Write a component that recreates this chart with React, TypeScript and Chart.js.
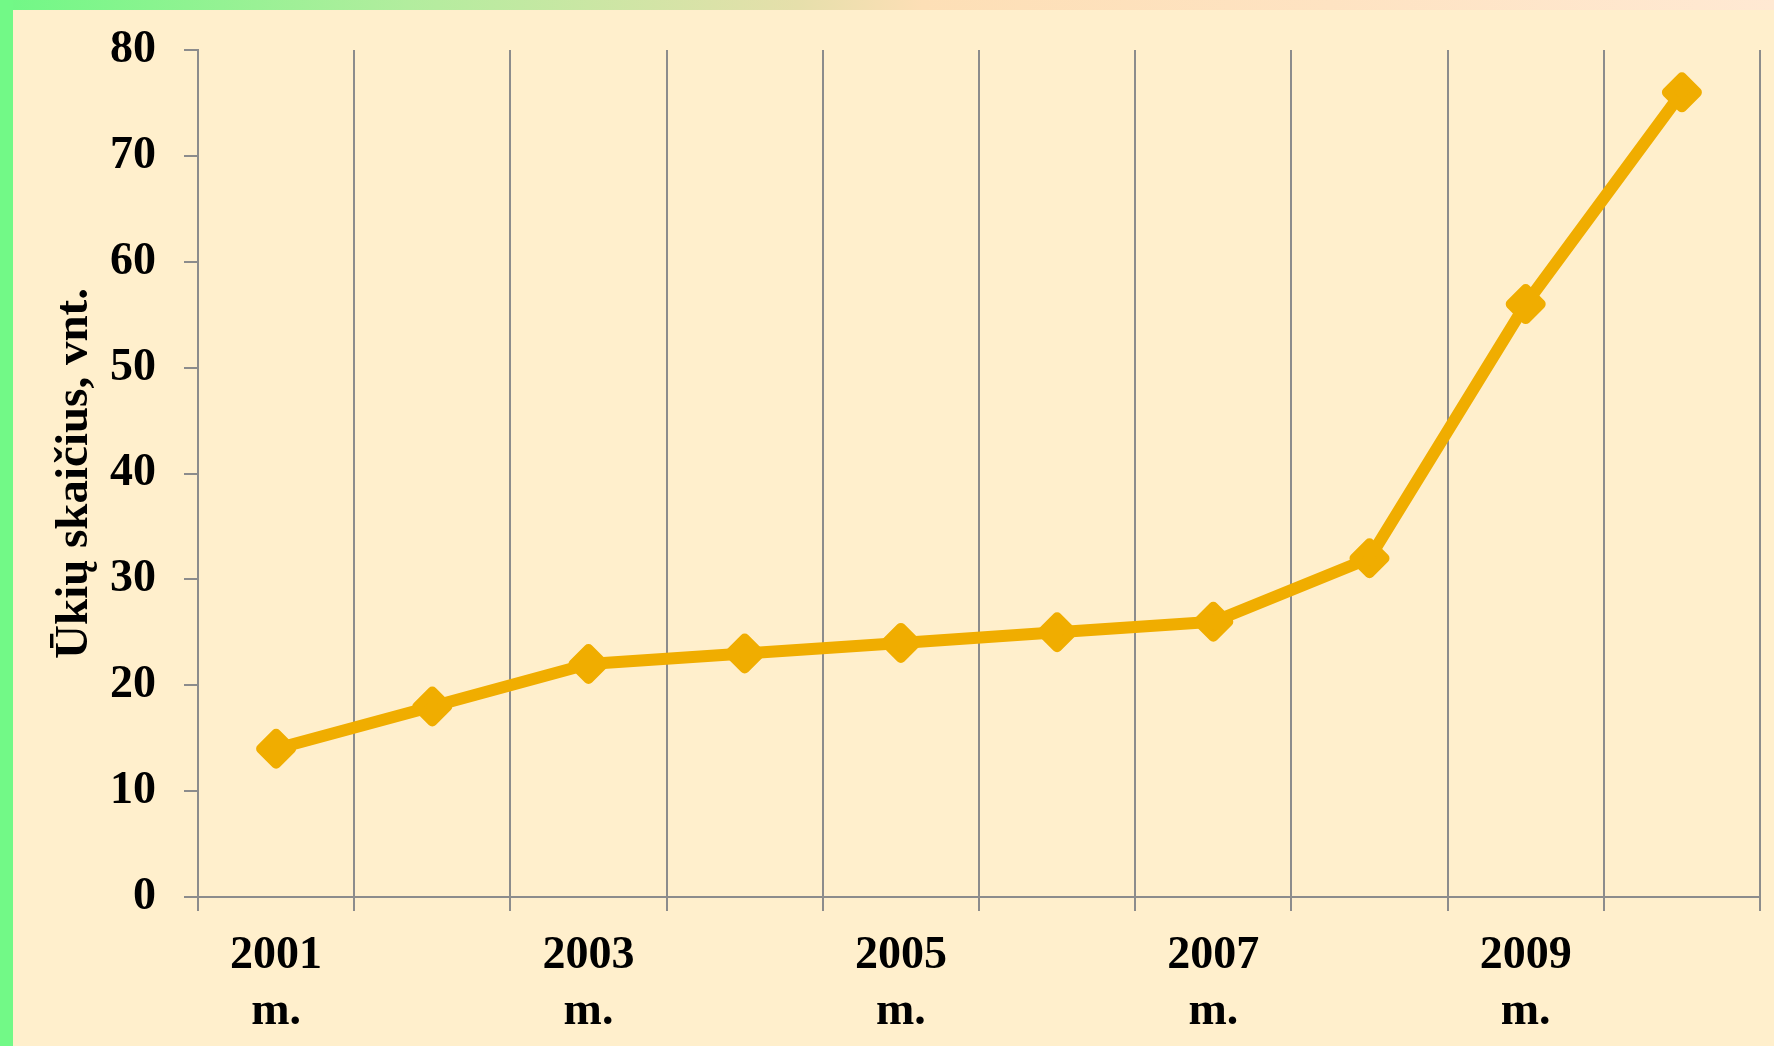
import React, { useEffect, useRef } from "react";
import { Chart, registerables } from "chart.js";

Chart.register(...registerables);

const years = ["2001", "2002", "2003", "2004", "2005", "2006", "2007", "2008", "2009", "2010"];
const yearSuffix = "m.";
const farmCounts = [14, 18, 22, 23, 24, 25, 26, 32, 56, 76];
const yMin = 0;
const yMax = 80;
const yStep = 10;
const yTitle = "Ūkių skaičius, vnt.";

const FONT = '"Liberation Serif", "Times New Roman", serif';
const LINE_COLOR = "#f0ad00";
const GRID_COLOR = "#8c8c8c";

const roundJoinPlugin = {
  id: "roundJoin",
  beforeDatasetsDraw(chart: any) {
    chart.ctx.lineJoin = "round";
  },
};

export default function App() {
  const canvasRef = useRef<HTMLCanvasElement | null>(null);

  useEffect(() => {
    const canvas = canvasRef.current;
    if (!canvas) return;
    const chart = new Chart(canvas, {
      type: "line",
      data: {
        labels: years.map((y) => [y, yearSuffix]),
        datasets: [
          {
            data: farmCounts,
            borderColor: LINE_COLOR,
            backgroundColor: LINE_COLOR,
            borderWidth: 12,
            borderJoinStyle: "round",
            borderCapStyle: "round",
            pointStyle: "rectRot",
            pointRadius: 15,
            pointBorderWidth: 10,
            pointBackgroundColor: LINE_COLOR,
            pointBorderColor: LINE_COLOR,
            tension: 0,
            fill: false,
            clip: false,
          } as any,
        ],
      },
      options: {
        responsive: false,
        animation: false,
        devicePixelRatio: 1,
        layout: { autoPadding: false, padding: { left: 0, right: 14, top: 50, bottom: 0 } },
        plugins: {
          legend: { display: false },
          tooltip: { enabled: false },
          title: { display: false },
        },
        scales: {
          x: {
            type: "category",
            offset: true,
            grid: {
              offset: true,
              color: GRID_COLOR,
              lineWidth: 2,
              tickLength: 14,
              drawOnChartArea: true,
              drawTicks: true,
            },
            border: { display: true, color: GRID_COLOR, width: 2 },
            ticks: {
              autoSkip: false,
              maxRotation: 0,
              minRotation: 0,
              padding: 17,
              color: "#000000",
              font: { family: FONT, size: 46, weight: "bold", lineHeight: 56 / 46 },
              callback: function (this: any, _v: any, index: number) {
                return index % 2 === 0 ? [years[index], yearSuffix] : "";
              },
            },
            afterFit(scale: any) {
              scale.height = 149;
              scale.paddingLeft = 0;
              scale.paddingRight = 0;
            },
          },
          y: {
            min: yMin,
            max: yMax,
            grid: {
              drawOnChartArea: false,
              drawTicks: true,
              tickLength: 14,
              color: GRID_COLOR,
              lineWidth: 2,
            },
            border: { display: true, color: GRID_COLOR, width: 2 },
            ticks: {
              stepSize: yStep,
              padding: 28,
              color: "#000000",
              font: { family: FONT, size: 46, weight: "bold" },
            },
            title: {
              display: true,
              text: yTitle,
              color: "#000000",
              font: { family: FONT, size: 47, weight: "bold", lineHeight: 1.2 },
              padding: { top: 47, bottom: 0 },
            },
            afterFit(scale: any) {
              scale.width = 198;
              scale.paddingTop = 0;
              scale.paddingBottom = 0;
            },
          },
        },
      } as any,
      plugins: [roundJoinPlugin],
    });
    return () => chart.destroy();
  }, []);

  return (
    <div
      style={{
        position: "fixed",
        left: 0,
        top: 0,
        width: 1774,
        height: 1046,
        background: "#ffefcc",
        overflow: "hidden",
      }}
    >
      <div
        style={{
          position: "absolute",
          left: 0,
          top: 0,
          width: 1774,
          height: 10,
          background:
            "linear-gradient(to right, #70f886 0%, #b2ed9e 23%, #e6dfab 45%, #fddfb6 52%, #fee3c2 75%, #ffe9d3 100%)",
        }}
      />
      <div
        style={{
          position: "absolute",
          left: 0,
          top: 0,
          width: 13,
          height: 1046,
          background: "#72f987",
        }}
      />
      <canvas
        ref={canvasRef}
        width={1774}
        height={1046}
        style={{ position: "absolute", left: 0, top: 0, width: 1774, height: 1046 }}
      />
    </div>
  );
}
